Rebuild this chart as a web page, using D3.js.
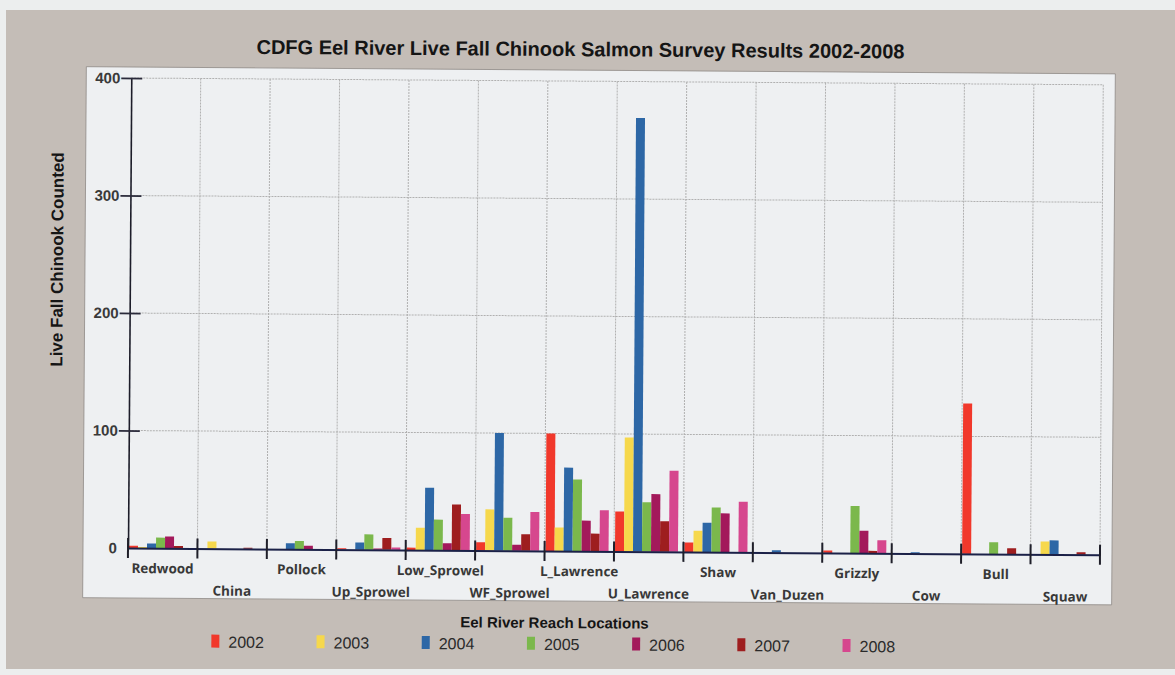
<!DOCTYPE html>
<html>
<head>
<meta charset="utf-8">
<script src="https://cdn.jsdelivr.net/npm/d3@7"></script>
<style>
  html, body { margin: 0; padding: 0; background: #eceeee; }
  svg { display: block; }
</style>
</head>
<body>
<svg id="chart" width="1175" height="675"></svg>
<script>
// Eel River reaches surveyed, upstream order as printed on the axis
const categories = ["Redwood", "China", "Pollock", "Up_Sprowel", "Low_Sprowel", "WF_Sprowel",
  "L_Lawrence", "U_Lawrence", "Shaw", "Van_Duzen", "Grizzly", "Cow", "Bull", "Squaw"];

const years = ["2002", "2003", "2004", "2005", "2006", "2007", "2008"];

// Live fall Chinook counted per reach, one array per survey year
const counts2002 = [2, 0, 0, 1, 2, 7, 100, 34, 8, 0, 2, 0, 128, 0];
const counts2003 = [1, 6, 0, 0, 19, 35, 20, 97, 18, 0, 0, 0, 0, 11];
const counts2004 = [4, 0, 5, 6, 53, 100, 71, 369, 25, 2, 0, 1, 0, 12];
const counts2005 = [9, 0, 7, 13, 26, 28, 61, 42, 38, 0, 40, 0, 10, 0];
const counts2006 = [10, 0, 3, 1, 6, 5, 26, 49, 33, 0, 19, 0, 0, 0];
const counts2007 = [2, 1, 0, 10, 39, 14, 15, 26, 0, 0, 2, 0, 5, 2];
const counts2008 = [0, 0, 0, 2, 31, 33, 35, 69, 43, 0, 11, 0, 0, 0];

const yTicks = [0, 100, 200, 300, 400];

const yearColors = ["#f1382b", "#f6d84c", "#2d67a6", "#7bb84c", "#a3195b", "#9e1e1f", "#d6478e"];

const seriesValues = [counts2002, counts2003, counts2004, counts2005, counts2006, counts2007, counts2008];
const rows = [];
categories.forEach((c, ci) => {
  years.forEach((yr, yi) => rows.push({ cat: c, year: yr, value: seriesValues[yi][ci], color: yearColors[yi] }));
});

const svg = d3.select("#chart");

// paper backdrop
svg.append("rect").attr("x", 0).attr("y", 0).attr("width", 1175).attr("height", 675).attr("fill", "#eceeee");
svg.append("rect").attr("x", 6).attr("y", 10).attr("width", 1169).attr("height", 659).attr("fill", "#c4bdb7");

// the printed chart sits slightly askew on the page
const page = svg.append("g").attr("transform", "rotate(0.4, 128, 548)");

page.append("rect")
  .attr("x", 83).attr("y", 67).attr("width", 1029).attr("height", 531)
  .attr("fill", "#eef0f2")
  .attr("stroke", "#8f8a86").attr("stroke-width", 0.8);

const plot = { left: 128, right: 1100, top: 78, bottom: 548 };

const x0 = d3.scaleBand().domain(categories).range([plot.left, plot.right]).padding(0);
const x1 = d3.scaleBand().domain(years).range([1, 64]).padding(0);
const y = d3.scaleLinear().domain([0, 400]).range([plot.bottom, plot.top]);

// horizontal grid
page.append("g")
  .selectAll("line")
  .data(yTicks.filter(t => t > 0))
  .join("line")
  .attr("x1", plot.left).attr("x2", plot.right)
  .attr("y1", d => y(d)).attr("y2", d => y(d))
  .attr("stroke", "#b0b0b0").attr("stroke-width", 1).attr("stroke-dasharray", "2,1");

// vertical grid at reach boundaries
const boundaries = categories.map(c => x0(c) + x0.bandwidth());
page.append("g")
  .selectAll("line")
  .data(boundaries)
  .join("line")
  .attr("x1", d => d).attr("x2", d => d)
  .attr("y1", plot.top).attr("y2", plot.bottom)
  .attr("stroke", "#b0b0b0").attr("stroke-width", 1).attr("stroke-dasharray", "2,1");

// bars
page.append("g")
  .selectAll("rect")
  .data(rows)
  .join("rect")
  .attr("x", d => x0(d.cat) + x1(d.year))
  .attr("width", x1.bandwidth())
  .attr("y", d => y(d.value))
  .attr("height", d => y(0) - y(d.value))
  .attr("fill", d => d.color);

// y axis
const yAxis = d3.axisLeft(y).tickValues(yTicks).tickSize(0).tickPadding(11);
const yg = page.append("g").attr("transform", `translate(${plot.left},0)`).call(yAxis);
yg.select(".domain").attr("stroke", "#1d1d2a").attr("stroke-width", 1.6);
yg.selectAll(".tick text")
  .attr("font-family", "'Liberation Sans Narrow', 'Liberation Sans', Arial, sans-serif")
  .attr("font-size", 15).attr("font-weight", "bold").attr("fill", "#3a3a3a");
yg.selectAll(".tick").filter(d => d > 0).select("line")
  .attr("x1", -10).attr("x2", 11)
  .attr("stroke", "#2a2a3a").attr("stroke-width", 1.8);

// x axis
const xAxis = d3.axisBottom(x0).tickSize(0).tickPadding(0);
const xg = page.append("g").attr("transform", `translate(0,${plot.bottom})`).call(xAxis);
xg.select(".domain").attr("stroke", "#1b2148").attr("stroke-width", 2);
xg.selectAll(".tick text")
  .attr("font-family", "'Open Sans', 'DejaVu Sans', sans-serif")
  .attr("font-size", 13.5).attr("font-weight", "bold").attr("fill", "#383838")
  .attr("dy", null)
  .attr("y", (d, i) => i % 2 === 0 ? 25 : 47);

// reach boundary ticks
page.append("g")
  .selectAll("line")
  .data([plot.left].concat(boundaries))
  .join("line")
  .attr("x1", d => d).attr("x2", d => d)
  .attr("y1", plot.bottom - 10).attr("y2", plot.bottom + 10)
  .attr("stroke", "#1f1f2a").attr("stroke-width", 2);

// title
page.append("text")
  .attr("x", 577).attr("y", 53)
  .attr("text-anchor", "middle")
  .attr("font-family", "'Liberation Sans', Arial, sans-serif")
  .attr("font-size", 20).attr("font-weight", "bold").attr("fill", "#151515")
  .text("CDFG Eel River Live Fall Chinook Salmon Survey Results 2002-2008");

// axis titles
page.append("text")
  .attr("transform", "translate(61,260) rotate(-90)")
  .attr("text-anchor", "middle")
  .attr("font-family", "'Liberation Sans', Arial, sans-serif")
  .attr("font-size", 17).attr("font-weight", "bold").attr("fill", "#151515")
  .text("Live Fall Chinook Counted");

page.append("text")
  .attr("x", 555).attr("y", 625)
  .attr("text-anchor", "middle")
  .attr("font-family", "'Liberation Sans', Arial, sans-serif")
  .attr("font-size", 15).attr("font-weight", "bold").attr("fill", "#151515")
  .text("Eel River Reach Locations");

// legend
const legend = page.append("g")
  .selectAll("g")
  .data(years)
  .join("g")
  .attr("transform", (d, i) => `translate(${212 + i * 105.2},0)`);
legend.append("rect")
  .attr("x", 0).attr("y", 634).attr("width", 8).attr("height", 13)
  .attr("fill", (d, i) => yearColors[i]);
legend.append("text")
  .attr("x", 17).attr("y", 647)
  .attr("font-family", "'Liberation Sans Narrow', 'Liberation Sans', Arial, sans-serif")
  .attr("font-size", 16).attr("fill", "#2a2a2a")
  .text(d => d);
</script>
</body>
</html>
